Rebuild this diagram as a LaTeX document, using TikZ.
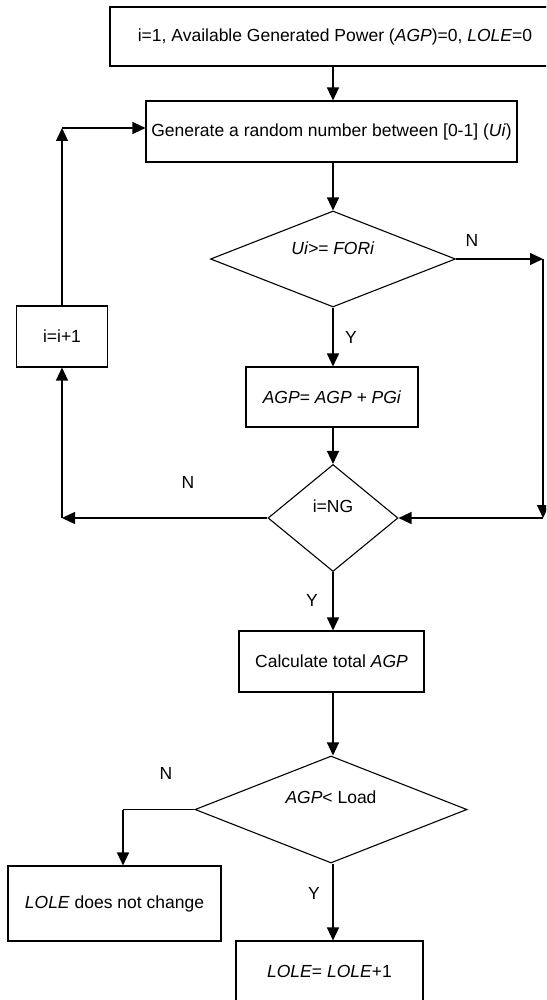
\documentclass[tikz,border=0pt]{standalone}
\usepackage{fontspec}
\setmainfont{Liberation Sans}
\usetikzlibrary{arrows.meta,shapes.geometric}
\begin{document}
\begin{tikzpicture}[x=1pt,y=-1pt,
  every node/.style={font=\fontsize{17.5}{21}\selectfont},
  box/.style={draw,line width=1.1pt,inner sep=0pt,minimum width=#1},
  dia/.style={draw,diamond,line width=1.1pt,inner sep=0pt},
  lbl/.style={inner sep=0pt},
  arr/.style={line width=1.3pt,-{Triangle[length=13pt,width=12pt]}}]
\clip (0,0) rectangle (546,1000);
\fill[white] (0,0) rectangle (546,1000);
\coordinate (cx) at (333,0);
% boxes
\node[box=450,minimum height=59] (b1) at (335,36.5) {i=1, Available Generated Power (\textit{AGP})=0, \textit{LOLE}=0};
\node[box=371,minimum height=61] (b2) at (331.5,131.5) {Generate a random number between [0-1] (\textit{Ui})};
\node[box=172,minimum height=60] (b3) at (332,397) {\textit{AGP= AGP + PGi}};
\node[box=91,minimum height=61] (bi) at (62,336.5) {i=i+1};
\node[box=185,minimum height=61] (b4) at (331.5,661.5) {Calculate total \textit{AGP}};
\node[box=213,minimum height=75] (b5) at (114.5,903.5) {\textit{LOLE} does not change};
\node[box=187,minimum height=60] (b6) at (329.5,971) {\textit{LOLE}= \textit{LOLE}+1};
% diamonds
\node[dia,minimum width=245,minimum height=96] (d1) at (333,259) {};
\node[lbl] (t1) at (333,248) {\textit{Ui>= FORi}};
\node[dia,minimum width=130,minimum height=107] (d2) at (333,518) {};
\node[lbl] (t2) at (333,506) {i=NG};
\node[dia,minimum width=272,minimum height=107] (d3) at (331,809.5) {};
\node[lbl] (t3) at (331,797) {\textit{AGP}< Load};
% helper coordinates
\coordinate (r1) at (543,259);
\coordinate (r2) at (543,518);
\coordinate (l1) at (62,518);
\coordinate (l2) at (62,128);
\coordinate (n3) at (123,809.5);
% connectors
\draw[arr] (b1.south -| cx) -- (b2.north -| cx);
\draw[arr] (b2.south -| cx) -- (d1.north);
\draw[arr] (d1.south) -- (b3.north -| cx);
\draw[arr] (b3.south -| cx) -- (d2.north);
\draw[arr] (d1.east) -- (r1);
\draw[arr] (r1) -- (r2);
\draw[arr] (r2) -- (d2.east);
\draw[arr] (d2.west) -- (l1);
\draw[arr] (l1) -- (bi.south -| l1);
\draw[arr] (bi.north -| l1) -- (l2);
\draw[arr] (l2) -- (b2.west |- l2);
\draw[arr] (d2.south) -- (b4.north -| cx);
\draw[arr] (b4.south -| cx) -- (d3.north -| cx);
\draw[line width=1.3pt] (d3.west) -- (n3);
\draw[arr] (n3) -- (b5.north -| n3);
\draw[arr] (d3.south -| cx) -- (b6.north -| cx);
% labels
\node[lbl] (nA) at (472,240) {N};
\node[lbl] (yA) at (351,337) {Y};
\node[lbl] (nB) at (188,482) {N};
\node[lbl] (yB) at (312,600) {Y};
\node[lbl] (nC) at (166,773) {N};
\node[lbl] (yC) at (314,893) {Y};
\end{tikzpicture}
\end{document}
